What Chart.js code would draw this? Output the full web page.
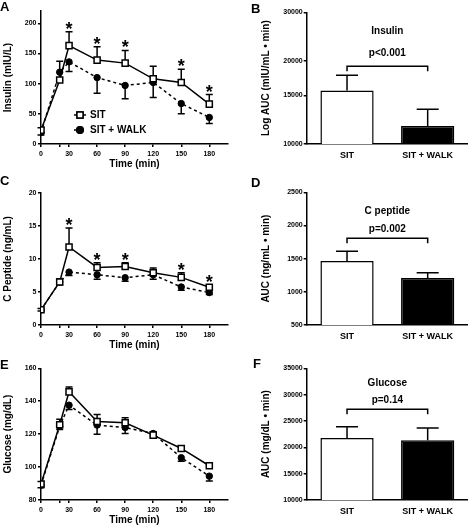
<!DOCTYPE html>
<html>
<head>
<meta charset="utf-8">
<script src="https://cdn.jsdelivr.net/npm/chart.js@4.4.0/dist/chart.umd.min.js"></script>
<style>
  body { margin: 0; background: #fff; }
  #wrap { position: relative; width: 468px; height: 527px; }
  canvas { position: absolute; }
</style>
</head>
<body>
<div id="wrap">
  <canvas id="insulinLine" width="240" height="170" style="left:0;top:0"></canvas>
  <canvas id="insulinBar" width="228" height="170" style="left:240px;top:0"></canvas>
  <canvas id="cpepLine" width="240" height="176" style="left:0;top:175px"></canvas>
  <canvas id="cpepBar" width="228" height="176" style="left:240px;top:175px"></canvas>
  <canvas id="glucoseLine" width="240" height="176" style="left:0;top:350px"></canvas>
  <canvas id="glucoseBar" width="228" height="176" style="left:240px;top:350px"></canvas>
</div>
<script>
// time course (min)
const times = [0, 20, 30, 60, 90, 120, 150, 180];
const timeTicks = [0, 20, 30, 60, 90, 120, 150, 180];
const groups = ['SIT', 'SIT + WALK'];

// insulin (mIU/L), mean and SEM
const insulinSit = [23, 106, 163, 139, 134, 108, 102, 66];
const insulinSitSem = [4, 31, 23, 22, 21, 21, 22, 16];
const insulinWalk = [19, 119, 136, 110, 97, 102, 67, 44];
const insulinWalkSem = [4, 14, 16, 26, 22, 25, 17, 10];
const insulinStars = [30, 60, 90, 150, 180];
const insulinTicks = [0, 50, 100, 150, 200];

// C peptide (ng/mL)
const cpepSit = [2.3, 6.5, 11.8, 8.7, 8.85, 7.9, 7.2, 5.7];
const cpepSitSem = [0.2, 0.5, 2.85, 0.7, 0.55, 0.7, 0.7, 0.3];
const cpepWalk = [2.3, 6.5, 8.0, 7.6, 7.15, 7.6, 5.75, 4.9];
const cpepWalkSem = [0.2, 0.4, 0.5, 0.7, 0.55, 0.7, 0.5, 0.3];
const cpepStars = [30, 60, 90, 150, 180];
const cpepTicks = [0, 5, 10, 15, 20];

// glucose (mg/dL)
const glucoseSit = [89.7, 125.7, 145.7, 127.7, 126.9, 119.4, 111.3, 100.8];
const glucoseSitSem = [1.5, 3.3, 3, 4.3, 3.1, 2, 1.7, 1.8];
const glucoseWalk = [89, 124.8, 137.6, 125.5, 124, 120.4, 105.7, 94.5];
const glucoseWalkSem = [1.5, 2, 2.6, 5.5, 3.6, 1.6, 2.1, 3];
const glucoseTicks = [80, 100, 120, 140, 160];

// area under the curve
const insulinAuc = [15640, 11630];
const insulinAucSem = [2090, 1735];
const insulinAucTicks = [10000, 15000, 20000, 30000];
const cpepAuc = [1465, 1208];
const cpepAucSem = [145, 81];
const cpepAucTicks = [500, 1000, 1500, 2000, 2500];
const glucoseAuc = [21770, 21330];
const glucoseAucSem = [2150, 2340];
const glucoseAucTicks = [10000, 15000, 20000, 25000, 30000, 35000];

const ink = '#000';
const family = '"Liberation Sans", Arial, sans-serif';
const tickFont = { family, size: 7, weight: 'bold' };
const labelFont = { family, size: 9, weight: 'bold' };
const titleFont = { family, size: 10, weight: 'bold' };

function fixedTicks(values) {
    return scale => { scale.ticks = values.map(v => ({ value: v })); };
}

function valueOf(d) {
    return typeof d === 'object' ? d.y : d;
}

function drawErrors(chart, errors, cap) {
    const ctx = chart.ctx;
    const y = chart.scales.y;
    ctx.save();
    ctx.strokeStyle = ink;
    ctx.lineWidth = 1.5;
    errors.forEach(err => {
        const meta = chart.getDatasetMeta(err.dataset);
        const values = chart.data.datasets[err.dataset].data;
        meta.data.forEach((el, i) => {
            const end = y.getPixelForValue(valueOf(values[i]) + err.dir * err.sem[i]);
            ctx.beginPath();
            ctx.moveTo(el.x, el.y);
            ctx.lineTo(el.x, end);
            ctx.moveTo(el.x - cap, end);
            ctx.lineTo(el.x + cap, end);
            ctx.stroke();
        });
    });
    ctx.restore();
}

const panelExtras = {
    id: 'panelExtras',
    beforeDatasetsDraw(chart, args, opts) {
        if (!opts.bar) drawErrors(chart, opts.errors, opts.cap);
    },
    afterDatasetsDraw(chart, args, opts) {
        if (opts.bar) drawErrors(chart, opts.errors, opts.cap);
    },
    afterDraw(chart, args, opts) {
        const ctx = chart.ctx;
        const x = chart.scales.x;
        const y = chart.scales.y;
        ctx.save();
        ctx.fillStyle = ink;
        ctx.strokeStyle = ink;
        ctx.lineWidth = 1.5;

        // panel letter
        ctx.font = 'bold 13px ' + family;
        ctx.textAlign = 'left';
        ctx.textBaseline = 'middle';
        ctx.fillText(opts.letter[0], opts.letter[1], opts.letter[2]);

        // significance stars
        if (opts.stars) {
            ctx.font = 'bold 18px ' + family;
            ctx.textAlign = 'center';
            ctx.textBaseline = 'alphabetic';
            opts.stars.times.forEach(t => {
                const i = times.indexOf(t);
                const top = y.getPixelForValue(opts.stars.mean[i] + opts.stars.sem[i]);
                ctx.fillText('*', x.getPixelForValue(t), top + 3);
            });
        }

        // legend inside panel A
        if (opts.legend) {
            const lx = opts.legend[0], ly = opts.legend[1];
            [0, 1].forEach(k => {
                const ds = chart.data.datasets[k];
                const yy = ly + k * 15;
                ctx.setLineDash(ds.borderDash || []);
                ctx.beginPath();
                ctx.moveTo(lx - 6, yy);
                ctx.lineTo(lx + 6, yy);
                ctx.stroke();
                ctx.setLineDash([]);
                Chart.helpers.drawPoint(ctx, {
                    pointStyle: ds.pointStyle, radius: ds.pointRadius, borderWidth: 1.5, rotation: 0
                }, lx, yy);
                ctx.fillStyle = ds.pointBackgroundColor;
                ctx.fill();
                ctx.stroke();
                ctx.fillStyle = ink;
                ctx.font = 'bold 10px ' + family;
                ctx.textAlign = 'left';
                ctx.textBaseline = 'middle';
                ctx.fillText(ds.label, lx + 10, yy + 0.5);
            });
        }

        // comparison bracket with p value
        if (opts.bracket) {
            const b = opts.bracket;
            const x0 = x.getPixelForValue(0);
            const x1 = x.getPixelForValue(1);
            const by = y.getPixelForValue(b.value);
            ctx.beginPath();
            ctx.moveTo(x0, by + 5);
            ctx.lineTo(x0, by);
            ctx.lineTo(x1, by);
            ctx.lineTo(x1, by + 5);
            ctx.stroke();
            ctx.font = 'bold 10px ' + family;
            ctx.textAlign = 'center';
            ctx.textBaseline = 'middle';
            const cx = (x0 + x1) / 2;
            ctx.fillText(b.p, cx, by - b.pGap);
            ctx.fillText(b.title, cx, by - b.titleGap);
        }
        ctx.restore();
    }
};

function lineChart(id, sit, sitSem, walk, walkSem, yTicks, yMax, yTitle, padTop, extras) {
    const ctx = document.getElementById(id).getContext('2d');
    return new Chart(ctx, {
        type: 'line',
        data: {
            datasets: [{
                label: 'SIT',
                data: times.map((t, i) => ({ x: t, y: sit[i] })),
                borderColor: ink,
                borderWidth: 1.5,
                pointStyle: 'rect',
                pointRadius: 4.3,
                pointBackgroundColor: '#fff',
                pointBorderColor: ink,
                pointBorderWidth: 1.5
            }, {
                label: 'SIT + WALK',
                data: times.map((t, i) => ({ x: t, y: walk[i] })),
                borderColor: ink,
                borderWidth: 1.5,
                borderDash: [3, 3],
                pointStyle: 'circle',
                pointRadius: 3.2,
                pointBackgroundColor: ink,
                pointBorderColor: ink,
                pointBorderWidth: 1
            }]
        },
        options: {
            responsive: false,
            animation: false,
            layout: { padding: { top: padTop, right: 12, left: 0, bottom: 0 } },
            plugins: {
                legend: { display: false },
                tooltip: { enabled: false },
                panelExtras: Object.assign({
                    cap: 3.5,
                    errors: [
                        { dataset: 0, sem: sitSem, dir: 1 },
                        { dataset: 1, sem: walkSem, dir: -1 }
                    ]
                }, extras)
            },
            scales: {
                x: {
                    type: 'linear',
                    min: 0,
                    max: 200,
                    afterBuildTicks: fixedTicks(timeTicks),
                    afterFit: s => { s.height = 26; },
                    ticks: {
                        callback: v => v === 20 ? '' : v,
                        font: tickFont, color: ink, padding: 3, autoSkip: false, maxRotation: 0
                    },
                    grid: { display: true, drawOnChartArea: false, tickLength: 3, color: ink, lineWidth: 1.5 },
                    border: { color: ink, width: 1.5 },
                    title: { display: true, text: 'Time (min)', font: titleFont, color: ink, padding: 0 }
                },
                y: {
                    min: yTicks[0],
                    max: yMax,
                    afterBuildTicks: fixedTicks(yTicks),
                    afterFit: s => { s.width = 41; },
                    ticks: { font: tickFont, color: ink, padding: 1.5 },
                    grid: { display: true, drawOnChartArea: false, tickLength: 3, color: ink, lineWidth: 1.5 },
                    border: { color: ink, width: 1.5 },
                    title: { display: true, text: yTitle, font: titleFont, color: ink, padding: { top: 2, bottom: 0 } }
                }
            }
        },
        plugins: [panelExtras]
    });
}

function barChart(id, auc, aucSem, type, yTicks, yTitle, padTop, extras) {
    const ctx = document.getElementById(id).getContext('2d');
    return new Chart(ctx, {
        type: 'bar',
        data: {
            labels: groups,
            datasets: [{
                data: auc,
                backgroundColor: ['#fff', ink],
                borderColor: ink,
                borderWidth: 1.5,
                barPercentage: 0.66,
                categoryPercentage: 1
            }]
        },
        options: {
            responsive: false,
            animation: false,
            layout: { padding: { top: padTop, right: 0, left: 0, bottom: 0 } },
            plugins: {
                legend: { display: false },
                tooltip: { enabled: false },
                panelExtras: Object.assign({
                    bar: true,
                    cap: 11,
                    errors: [{ dataset: 0, sem: aucSem, dir: 1 }]
                }, extras)
            },
            scales: {
                x: {
                    afterFit: s => { s.height = 26; },
                    ticks: { font: labelFont, color: ink, padding: 6 },
                    grid: { display: false, drawTicks: false },
                    border: { color: ink, width: 1.5 }
                },
                y: {
                    type: type,
                    min: yTicks[0],
                    max: yTicks[yTicks.length - 1],
                    afterBuildTicks: fixedTicks(yTicks),
                    afterFit: s => { s.width = 66.7; },
                    ticks: { font: tickFont, color: ink, padding: 1, callback: v => String(v) },
                    grid: { display: true, drawOnChartArea: false, tickLength: 3, color: ink, lineWidth: 1.5 },
                    border: { color: ink, width: 1.5 },
                    title: { display: true, text: yTitle, font: titleFont, color: ink, padding: { top: 20, bottom: 0 } }
                }
            }
        },
        plugins: [panelExtras]
    });
}

lineChart('insulinLine', insulinSit, insulinSitSem, insulinWalk, insulinWalkSem,
    insulinTicks, 220, 'Insulin (mIU/L)', 11.2, {
        letter: ['A', 0, 7],
        stars: { times: insulinStars, mean: insulinSit, sem: insulinSitSem },
        legend: [80, 115]
    });

lineChart('cpepLine', cpepSit, cpepSitSem, cpepWalk, cpepWalkSem,
    cpepTicks, 20, 'C Peptide (ng/mL)', 17.7, {
        letter: ['C', 0, 6.5],
        stars: { times: cpepStars, mean: cpepSit, sem: cpepSitSem }
    });

lineChart('glucoseLine', glucoseSit, glucoseSitSem, glucoseWalk, glucoseWalkSem,
    glucoseTicks, 160, 'Glucose (mg/dL)', 18.3, {
        letter: ['E', 0, 15]
    });

barChart('insulinBar', insulinAuc, insulinAucSem, 'logarithmic', insulinAucTicks,
    'Log AUC (mIU/mL \u2022 min)', 12.3, {
        letter: ['B', 11, 9],
        bracket: { value: 19120, p: 'p<0.001', title: 'Insulin', pGap: 12.7, titleGap: 35 }
    });

barChart('cpepBar', cpepAuc, cpepAucSem, 'linear', cpepAucTicks,
    'AUC (ng/mL \u2022 min)', 17.3, {
        letter: ['D', 11, 8],
        bracket: { value: 1807, p: 'p=0.002', title: 'C peptide', pGap: 9, titleGap: 27 }
    });

barChart('glucoseBar', glucoseAuc, glucoseAucSem, 'linear', glucoseAucTicks,
    'AUC (mg/dL \u2022 min)', 18.3, {
        letter: ['F', 13, 14],
        bracket: { value: 27215, p: 'p=0.14', title: 'Glucose', pGap: 9.3, titleGap: 26 }
    });
</script>
</body>
</html>
